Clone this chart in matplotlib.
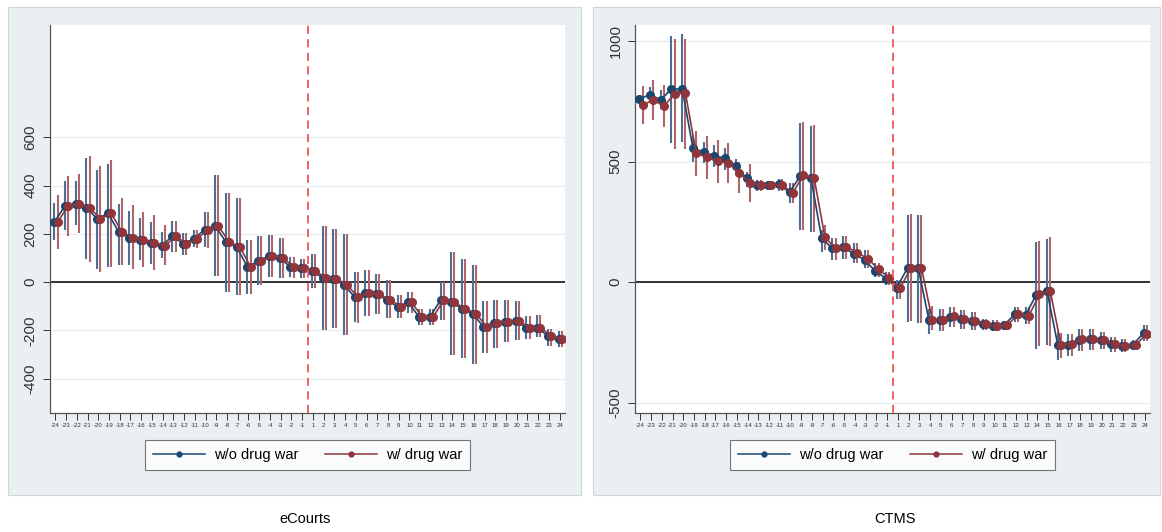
#!/usr/bin/env python3
"""
Event-study style chart: eCourts vs CTMS, with and without drug war controls.
"""

import numpy as np
import matplotlib
matplotlib.use('Agg')
import matplotlib.pyplot as plt
from matplotlib.patches import Rectangle
from matplotlib.lines import Line2D

plt.rcParams['font.family'] = ['Liberation Sans', 'DejaVu Sans']

# event time (no period 0)
periods = list(range(-24, 0)) + list(range(1, 25))
series_labels = ['w/o drug war', 'w/ drug war']
panel_titles = ['eCourts', 'CTMS']

# eCourts panel
ec_wo = [250, 315, 325, 309, 262, 286, 209, 185, 177, 163, 150, 191, 160, 179, 218, 232,
         167, 146, 63, 88, 108, 102, 63, 59,
         47, 19, 15, -12, -61, -43, -50, -72, -102, -84, -144, -144, -75, -84, -109, -130,
         -185, -171, -163, -160, -189, -188, -222, -237]
ec_wo_lo = [174, 216, 237, 98, 56, 63, 70, 70, 91, 77, 99, 125, 112, 146, 146, 25,
            -40, -54, -47, -12, 22, 19, 22, 19,
            -26, -196, -189, -219, -164, -139, -132, -150, -150, -127, -178, -178, -155, -300, -316, -337,
            -293, -272, -247, -241, -237, -228, -265, -270]
ec_wo_hi = [328, 418, 418, 516, 467, 492, 325, 294, 265, 250, 207, 254, 203, 218, 291, 443,
            371, 351, 174, 190, 195, 183, 105, 98,
            119, 232, 219, 201, 43, 52, 33, 8, -51, -40, -109, -109, 1, 125, 95, 73,
            -77, -75, -75, -77, -141, -137, -192, -203]
ec_w = [250, 315, 325, 309, 262, 286, 209, 185, 177, 163, 150, 191, 160, 179, 218, 232,
        167, 146, 63, 88, 108, 102, 63, 59,
        47, 19, 15, -12, -61, -43, -50, -72, -102, -84, -144, -144, -75, -84, -109, -130,
        -185, -171, -163, -160, -189, -188, -222, -237]
ec_w_lo = [137, 191, 202, 84, 42, 63, 70, 56, 63, 50, 70, 125, 112, 140, 143, 25,
           -40, -54, -50, -12, 22, 19, 19, 19,
           -26, -196, -189, -219, -168, -139, -132, -150, -150, -127, -178, -178, -155, -300, -316, -337,
           -293, -272, -247, -241, -237, -228, -265, -270]
ec_w_hi = [362, 442, 450, 525, 481, 505, 348, 321, 291, 277, 236, 254, 203, 218, 291, 443,
           371, 351, 174, 190, 195, 183, 105, 98,
           119, 232, 219, 201, 43, 52, 33, 8, -51, -40, -109, -109, 1, 125, 95, 73,
           -77, -75, -75, -77, -141, -137, -192, -203]

# CTMS panel
ct_wo = [760, 777, 756, 801, 801, 556, 539, 524, 514, 482, 431, 403, 403, 406, 373, 440,
         431, 182, 140, 144, 119, 91, 47, 15,
         -22, 59, 59, -158, -155, -144, -151, -161, -175, -180, -177, -133, -137, -51, -36, -259,
         -259, -238, -234, -241, -258, -265, -259, -211]
ct_wo_lo = [743, 749, 718, 579, 583, 500, 493, 479, 465, 445, 396, 380, 382, 380, 327, 216,
            209, 126, 91, 96, 78, 57, 20, -12,
            -68, -165, -168, -213, -202, -186, -192, -197, -199, -202, -197, -165, -175, -276, -262, -321,
            -307, -283, -280, -276, -290, -290, -276, -244]
ct_wo_hi = [777, 809, 798, 1022, 1027, 604, 583, 567, 556, 511, 458, 424, 420, 427, 410, 660,
            648, 216, 182, 191, 161, 133, 80, 43,
            8, 278, 278, -109, -113, -102, -116, -123, -151, -158, -165, -102, -102, 168, 181, -206,
            -213, -192, -192, -206, -227, -234, -241, -179]
ct_w = [733, 756, 731, 780, 784, 535, 518, 503, 493, 454, 413, 403, 403, 403, 369, 445,
        431, 186, 140, 147, 122, 98, 53, 18,
        -26, 59, 59, -155, -155, -141, -151, -161, -175, -183, -177, -133, -140, -50, -36, -259,
        -255, -234, -234, -241, -258, -265, -259, -213]
ct_w_lo = [657, 673, 643, 551, 551, 441, 427, 410, 410, 371, 334, 380, 382, 380, 327, 216,
           209, 133, 91, 96, 78, 57, 20, -12,
           -68, -161, -168, -200, -202, -186, -192, -197, -199, -202, -197, -165, -175, -266, -266, -315,
           -307, -283, -280, -276, -290, -290, -276, -244]
ct_w_hi = [815, 840, 819, 1010, 1010, 625, 607, 590, 579, 500, 489, 424, 420, 427, 410, 666,
           652, 237, 182, 191, 161, 133, 80, 43,
           8, 283, 278, -100, -113, -102, -116, -123, -151, -158, -165, -102, -102, 172, 188, -210,
           -213, -192, -192, -206, -227, -234, -241, -179]

ec_yticks = [-400, -200, 0, 200, 400, 600]
ct_yticks = [-500, 0, 500, 1000]

NAVY = '#1a476f'
MAROON = '#90353b'
NAVY_CI = '#4d6f94'
MAROON_CI = '#b0656a'
PANEL_BG = '#eaf0f2'
GRID = '#e6eef1'

W, H = 1162, 532


def px_rect(x0, y0, x1, y1):
    """Pixel box (top-left origin) -> figure fraction [l, b, w, h]."""
    return [x0 / W, 1 - y1 / H, (x1 - x0) / W, (y1 - y0) / H]


def draw_panel(fig, box, axbox, series, yticks, title, title_x):
    """Draw one Stata-like panel with background, CIs and legend."""
    l, b, w, h = px_rect(*box)
    fig.patches.append(Rectangle((l, b), w, h, transform=fig.transFigure,
                                 facecolor=PANEL_BG, edgecolor='#cfd6da', lw=0.8, zorder=-5))
    ax = fig.add_axes(px_rect(*axbox))
    ax.set_facecolor('white')

    pos = np.arange(len(periods))
    styles = [(NAVY, NAVY_CI, -0.1), (MAROON, MAROON_CI, 0.2)]
    for (vals, lo, hi), (col, cicol, off) in zip(series, styles):
        x = pos + off
        ax.vlines(x, lo, hi, color=cicol, lw=1.5, zorder=2)
        ax.plot(x, vals, color=col, lw=1.2, marker='o', ms=5.5, zorder=3)

    ax.axhline(0, color='#333333', lw=1.4, zorder=1)
    ax.axvline(23.5, color='#f25555', lw=1.3, ls=(0, (4.5, 3)), zorder=4)
    for t in yticks:
        ax.axhline(t, color=GRID, lw=1.0, zorder=0)

    ax.set_xlim(-0.5, 47.5)
    ax.set_ylim(-542, 1066)
    ax.set_xticks(pos)
    ax.set_xticklabels([str(p) for p in periods], fontsize=4.3)
    ax.set_yticks(yticks)
    ax.set_yticklabels([str(t) for t in yticks], fontsize=11, rotation=90, va='center')
    ax.tick_params(axis='x', length=5, width=0.7, pad=2, colors='#333333')
    ax.tick_params(axis='y', length=5, width=0.7, pad=4, colors='#333333')
    for s in ['top', 'right']:
        ax.spines[s].set_visible(False)
    for s in ['left', 'bottom']:
        ax.spines[s].set_color('#555555')
        ax.spines[s].set_linewidth(0.9)

    handles = [Line2D([], [], color=NAVY, lw=1.1, marker='o', ms=3.5),
               Line2D([], [], color=MAROON, lw=1.1, marker='o', ms=3.5)]
    leg = ax.legend(handles, series_labels, loc='upper center', bbox_to_anchor=(0.5, -0.05),
                    ncol=2, frameon=True, fancybox=False, fontsize=10.5, handlelength=3.6,
                    columnspacing=1.8, borderpad=0.55, handletextpad=0.6)
    leg.get_frame().set_edgecolor('#555555')
    leg.get_frame().set_linewidth(0.8)

    fig.text(title_x / W, 1 - 519 / H, title, ha='center', va='center', fontsize=10.5)
    return ax


def main():
    fig = plt.figure(figsize=(W / 100, H / 100), dpi=100)

    draw_panel(fig, (8, 7, 581, 495), (50, 25, 565, 413),
               [(ec_wo, ec_wo_lo, ec_wo_hi), (ec_w, ec_w_lo, ec_w_hi)],
               ec_yticks, panel_titles[0], 305)
    draw_panel(fig, (593, 7, 1160, 495), (635, 25, 1150, 413),
               [(ct_wo, ct_wo_lo, ct_wo_hi), (ct_w, ct_w_lo, ct_w_hi)],
               ct_yticks, panel_titles[1], 895)

    fig.savefig('out.png', dpi=100)
    plt.close(fig)


if __name__ == '__main__':
    main()
